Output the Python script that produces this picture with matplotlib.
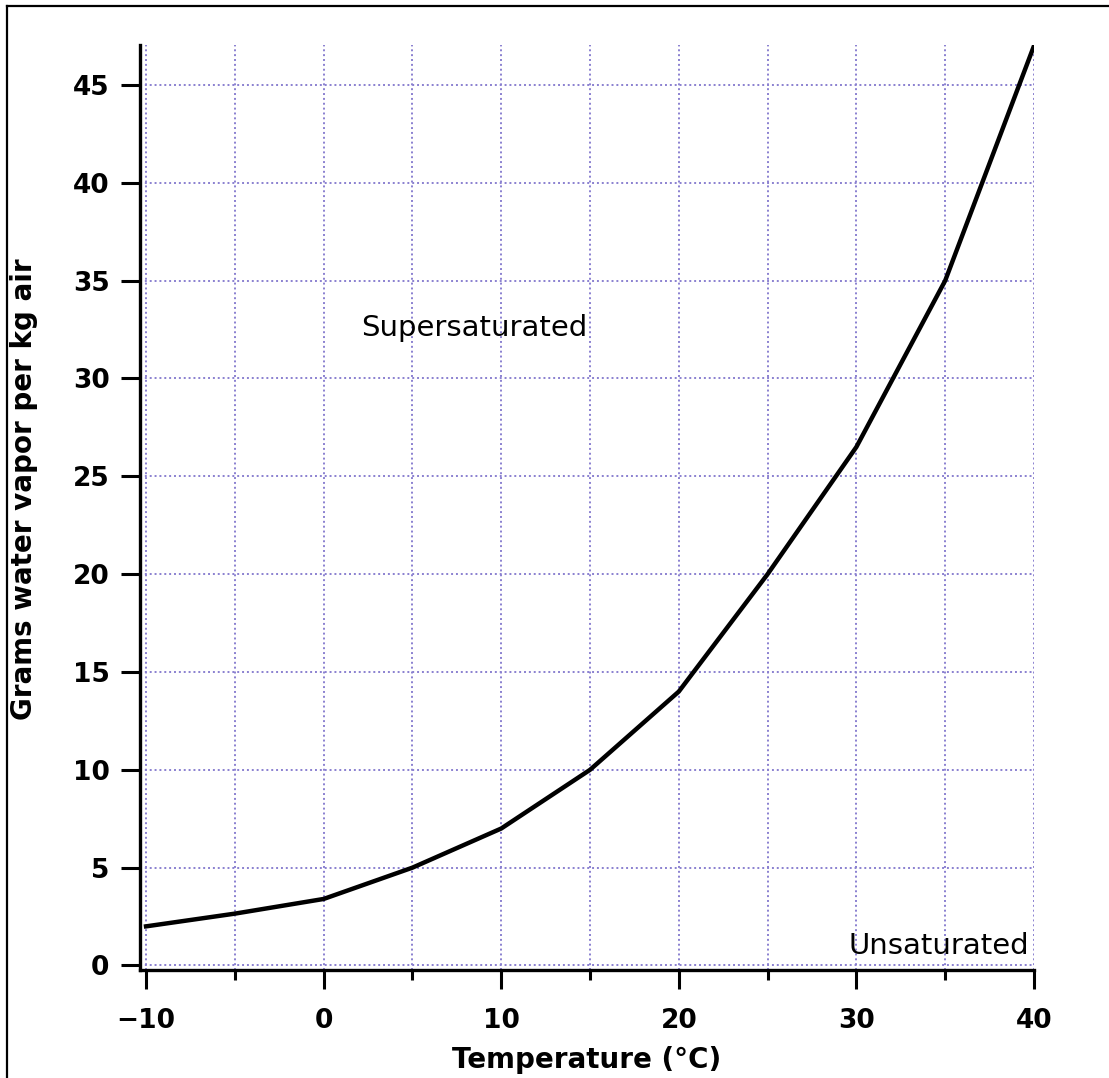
import numpy as np
import matplotlib.pyplot as plt
from matplotlib.lines import Line2D
from matplotlib.ticker import MultipleLocator

# Saturation vapor content vs temperature
TEMPS = [-10, -5, 0, 5, 10, 15, 20, 25, 30, 35, 40]
VAPOR = [2.0, 2.65, 3.4, 5.0, 7.0, 10.0, 14.0, 20.0, 26.5, 35.0, 47.0]

X_TICKS = [-10, 0, 10, 20, 30, 40]
Y_TICKS = [0, 5, 10, 15, 20, 25, 30, 35, 40, 45]

GRID_COLOR = '#8a80d0'

fig = plt.figure(figsize=(11.09, 10.78), dpi=100)
ax = fig.add_axes([140 / 1109, 1 - 970 / 1078, 894 / 1109, 925 / 1078])

ax.plot(TEMPS, VAPOR, color='black', linewidth=3.2, solid_joinstyle='round')

ax.set_xlim(-10.34, 40)
ax.set_ylim(-0.23, 47.04)

ax.set_xticks(X_TICKS)
ax.xaxis.set_minor_locator(MultipleLocator(5))
ax.set_yticks(Y_TICKS)

# dotted grid every 5 units, both directions
for x in np.arange(-10, 41, 5):
    ax.axvline(x, color=GRID_COLOR, linestyle=(0, (1, 1.5)), linewidth=1.4, zorder=0)
for y in Y_TICKS:
    ax.axhline(y, color=GRID_COLOR, linestyle=(0, (1, 1.5)), linewidth=1.4, zorder=0)

for side in ['top', 'right']:
    ax.spines[side].set_visible(False)
for side in ['left', 'bottom']:
    ax.spines[side].set_linewidth(2.4)

ax.tick_params(axis='both', which='major', direction='out', length=14, width=2.2,
               labelsize=19, pad=8)
ax.tick_params(axis='x', which='major', pad=13)
ax.tick_params(axis='x', which='minor', direction='out', length=7, width=2.2)
ax.set_xticklabels([f'\u2212{abs(t)}' if t < 0 else str(t) for t in X_TICKS])
for lbl in ax.get_xticklabels() + ax.get_yticklabels():
    lbl.set_fontweight('bold')

ax.set_xlabel('Temperature (°C)', fontsize=20, fontweight='bold', labelpad=9)
ax.set_ylabel('Grams water vapor per kg air', fontsize=20, fontweight='bold')
ax.yaxis.set_label_coords(-0.114, 0.52)

ax.text(8.5, 32.6, 'Supersaturated', fontsize=21, ha='center', va='center')
ax.text(39.7, 1.0, 'Unsaturated', fontsize=21, ha='right', va='center')

# frame lines along the left and top edges of the image
fig.add_artist(Line2D([6.5 / 1109, 6.5 / 1109], [0, 1 - 5.5 / 1078],
                      color='black', linewidth=1.6))
fig.add_artist(Line2D([6.5 / 1109, 1], [1 - 5.5 / 1078, 1 - 5.5 / 1078],
                      color='black', linewidth=1.6))

plt.savefig('out.png', dpi=100)
plt.close(fig)
